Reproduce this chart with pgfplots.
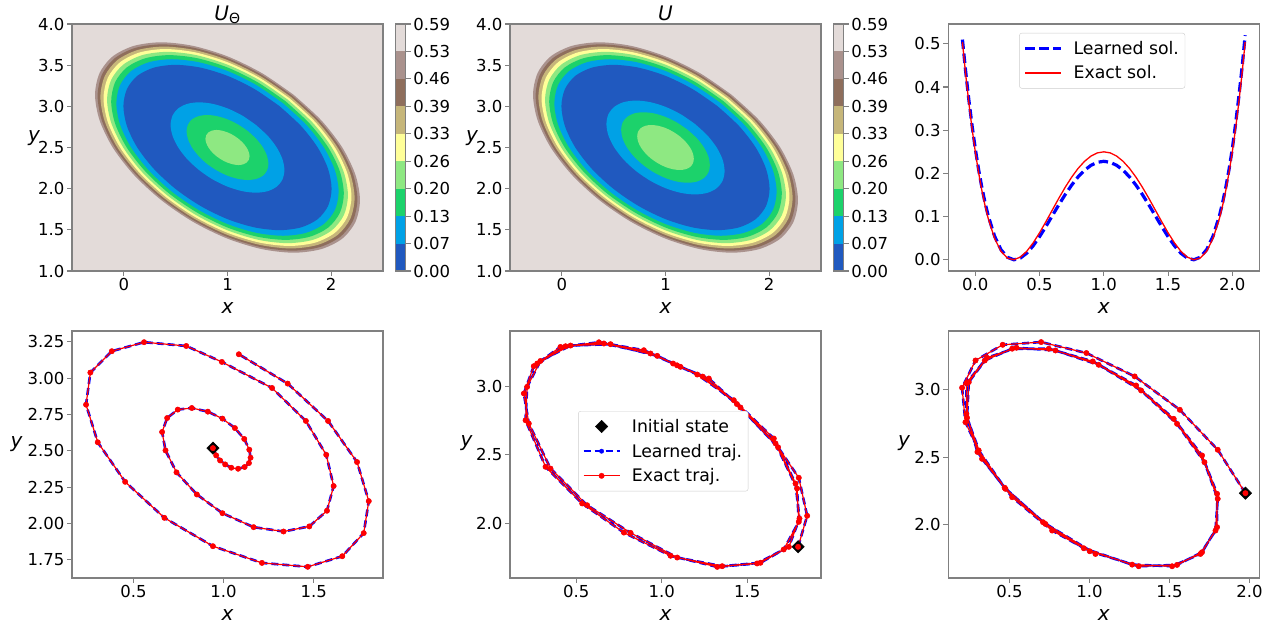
\documentclass[border=0pt]{standalone}
\usepackage{fontspec}
\setmainfont{DejaVu Sans}
\usepackage{pgfplots}
\usepackage{pgfplotstable}
\pgfplotsset{compat=1.18}

% terrain colours of the nine filled levels
\definecolor{c1}{HTML}{2059BF}
\definecolor{c2}{HTML}{00A1E6}
\definecolor{c3}{HTML}{1CD26B}
\definecolor{c4}{HTML}{8EE882}
\definecolor{c5}{HTML}{FFFF99}
\definecolor{c6}{HTML}{C6B67A}
\definecolor{c7}{HTML}{8E6E5C}
\definecolor{c8}{HTML}{AA928D}
\definecolor{c9}{HTML}{E3DBD9}

% contour lines of U (levels 8..1 outer ring, a..c inner); last row closes the loop
\pgfplotstableread{
x8 y8 x7 y7 x6 y6 x5 y5 x4 y4 x3 y3 x2 y2 x1 y1 xa ya xb yb xc yc
1.639 3.139 1.627 3.127 1.613 3.113 1.598 3.098 1.581 3.081 1.561 3.061 1.536 3.036 1.502 3.002 1.285 2.785 1.214 2.714 1.137 2.637
1.904 2.831 1.886 2.825 1.867 2.817 1.846 2.810 1.822 2.801 1.793 2.790 1.758 2.778 1.710 2.760 1.403 2.648 1.303 2.611 1.193 2.571
2.107 2.5 2.086 2.5 2.062 2.5 2.036 2.5 2.006 2.5 1.972 2.5 1.929 2.5 1.870 2.5 1.494 2.5 1.371 2.5 1.237 2.5
2.234 2.169 2.211 2.175 2.184 2.183 2.155 2.190 2.122 2.199 2.084 2.210 2.036 2.222 1.970 2.240 1.551 2.352 1.414 2.389 1.264 2.429
2.278 1.861 2.253 1.873 2.226 1.887 2.196 1.902 2.162 1.919 2.122 1.939 2.072 1.964 2.004 1.998 1.570 2.215 1.428 2.286 1.273 2.363
2.234 1.596 2.211 1.614 2.184 1.633 2.155 1.654 2.122 1.678 2.084 1.707 2.036 1.742 1.970 1.790 1.551 2.097 1.414 2.197 1.264 2.307
2.107 1.393 2.086 1.414 2.062 1.438 2.036 1.464 2.006 1.494 1.972 1.528 1.929 1.571 1.870 1.630 1.494 2.006 1.371 2.129 1.237 2.263
1.904 1.266 1.886 1.289 1.867 1.316 1.846 1.345 1.822 1.378 1.793 1.416 1.758 1.464 1.710 1.530 1.403 1.949 1.303 2.086 1.193 2.236
1.639 1.222 1.627 1.247 1.613 1.274 1.598 1.304 1.581 1.338 1.561 1.378 1.536 1.428 1.502 1.496 1.285 1.930 1.214 2.072 1.137 2.227
1.331 1.266 1.325 1.289 1.317 1.316 1.310 1.345 1.301 1.378 1.290 1.416 1.278 1.464 1.260 1.530 1.148 1.949 1.111 2.086 1.071 2.236
1 1.393 1 1.414 1 1.438 1 1.464 1 1.494 1 1.528 1 1.571 1 1.630 1 2.006 1 2.129 1 2.263
0.669 1.596 0.675 1.614 0.683 1.633 0.690 1.654 0.699 1.678 0.710 1.707 0.722 1.742 0.740 1.790 0.852 2.097 0.889 2.197 0.929 2.307
0.361 1.861 0.373 1.873 0.387 1.887 0.402 1.902 0.419 1.919 0.439 1.939 0.464 1.964 0.498 1.998 0.715 2.215 0.786 2.286 0.863 2.363
0.096 2.169 0.114 2.175 0.133 2.183 0.154 2.190 0.178 2.199 0.207 2.210 0.242 2.222 0.290 2.240 0.597 2.352 0.697 2.389 0.807 2.429
-0.107 2.5 -0.086 2.5 -0.062 2.5 -0.036 2.5 -0.006 2.5 0.028 2.5 0.071 2.5 0.130 2.5 0.506 2.5 0.629 2.5 0.763 2.5
-0.234 2.831 -0.211 2.825 -0.184 2.817 -0.155 2.810 -0.122 2.801 -0.084 2.790 -0.036 2.778 0.030 2.760 0.449 2.648 0.586 2.611 0.736 2.571
-0.278 3.139 -0.253 3.127 -0.226 3.113 -0.196 3.098 -0.162 3.081 -0.122 3.061 -0.072 3.036 -0.004 3.002 0.430 2.785 0.572 2.714 0.727 2.637
-0.234 3.404 -0.211 3.386 -0.184 3.367 -0.155 3.346 -0.122 3.322 -0.084 3.293 -0.036 3.258 0.030 3.210 0.449 2.903 0.586 2.803 0.736 2.693
-0.107 3.607 -0.086 3.586 -0.062 3.562 -0.036 3.536 -0.006 3.506 0.028 3.472 0.071 3.429 0.130 3.370 0.506 2.994 0.629 2.871 0.763 2.737
0.096 3.734 0.114 3.711 0.133 3.684 0.154 3.655 0.178 3.622 0.207 3.584 0.242 3.536 0.290 3.470 0.597 3.051 0.697 2.914 0.807 2.764
0.361 3.778 0.373 3.753 0.387 3.726 0.402 3.696 0.419 3.662 0.439 3.622 0.464 3.572 0.498 3.504 0.715 3.070 0.786 2.928 0.863 2.773
0.669 3.734 0.675 3.711 0.683 3.684 0.690 3.655 0.699 3.622 0.710 3.584 0.722 3.536 0.740 3.470 0.852 3.051 0.889 2.914 0.929 2.764
1 3.607 1 3.586 1 3.562 1 3.536 1 3.506 1 3.472 1 3.429 1 3.370 1 2.994 1 2.871 1 2.737
1.331 3.404 1.325 3.386 1.317 3.367 1.310 3.346 1.301 3.322 1.290 3.293 1.278 3.258 1.260 3.210 1.148 2.903 1.111 2.803 1.071 2.693
1.639 3.139 1.627 3.127 1.613 3.113 1.598 3.098 1.581 3.081 1.561 3.061 1.536 3.036 1.502 3.002 1.285 2.785 1.214 2.714 1.137 2.637
}\ctab

% inner contours of the learned U_Theta
\pgfplotstableread{
xa ya xb yb xc yc
1.274 2.774 1.198 2.698 1.106 2.606
1.388 2.642 1.279 2.602 1.150 2.555
1.475 2.5 1.342 2.5 1.184 2.5
1.530 2.358 1.381 2.398 1.205 2.445
1.549 2.226 1.395 2.302 1.213 2.394
1.530 2.112 1.381 2.221 1.205 2.350
1.475 2.025 1.342 2.158 1.184 2.316
1.388 1.970 1.279 2.119 1.150 2.295
1.274 1.951 1.198 2.105 1.106 2.287
1.142 1.970 1.102 2.119 1.055 2.295
1 2.025 1 2.158 1 2.316
0.858 2.112 0.898 2.221 0.945 2.350
0.726 2.226 0.802 2.302 0.894 2.394
0.612 2.358 0.721 2.398 0.850 2.445
0.525 2.5 0.658 2.5 0.816 2.5
0.470 2.642 0.619 2.602 0.795 2.555
0.451 2.774 0.605 2.698 0.787 2.606
0.470 2.888 0.619 2.779 0.795 2.650
0.525 2.975 0.658 2.842 0.816 2.684
0.612 3.030 0.721 2.881 0.850 2.705
0.726 3.049 0.802 2.895 0.894 2.713
0.858 3.030 0.898 2.881 0.945 2.705
1 2.975 1 2.842 1 2.684
1.142 2.888 1.102 2.779 1.055 2.650
1.274 2.774 1.198 2.698 1.106 2.606
}\ltab

% 1D slice: exact and learned
\pgfplotstableread{
x ex le
-0.100 0.5041 0.5099
-0.075 0.4298 0.4363
-0.050 0.3630 0.3699
-0.025 0.3032 0.3104
0.000 0.2500 0.2573
0.025 0.2031 0.2104
0.050 0.1620 0.1691
0.075 0.1265 0.1333
0.100 0.0961 0.1025
0.150 0.0495 0.0547
0.200 0.0196 0.0233
0.250 0.0039 0.0058
0.300 0.0001 0.0000
0.350 0.0060 0.0038
0.400 0.0196 0.0151
0.450 0.0390 0.0323
0.500 0.0625 0.0535
0.550 0.0885 0.0773
0.600 0.1156 0.1024
0.650 0.1425 0.1274
0.700 0.1681 0.1512
0.750 0.1914 0.1730
0.800 0.2116 0.1920
0.850 0.2280 0.2074
0.900 0.2401 0.2187
0.950 0.2475 0.2257
1.000 0.2500 0.2280
1.050 0.2475 0.2257
1.100 0.2401 0.2187
1.150 0.2280 0.2074
1.200 0.2116 0.1920
1.250 0.1914 0.1730
1.300 0.1681 0.1512
1.350 0.1425 0.1274
1.400 0.1156 0.1024
1.450 0.0885 0.0773
1.500 0.0625 0.0535
1.550 0.0390 0.0323
1.600 0.0196 0.0151
1.650 0.0060 0.0038
1.700 0.0001 0.0000
1.750 0.0039 0.0058
1.800 0.0196 0.0233
1.850 0.0495 0.0547
1.900 0.0961 0.1025
1.925 0.1265 0.1333
1.950 0.1620 0.1691
1.975 0.2031 0.2104
2.000 0.2500 0.2573
2.025 0.3032 0.3140
2.050 0.3630 0.3760
2.075 0.4298 0.4430
2.100 0.5041 0.5200
}\sol

\pgfplotstableread{
x y
0.941 2.519
0.959 2.469
0.981 2.434
1.009 2.407
1.043 2.384
1.081 2.377
1.117 2.389
1.141 2.416
1.150 2.453
1.143 2.508
1.115 2.582
1.063 2.657
0.994 2.722
0.913 2.770
0.824 2.795
0.746 2.784
0.687 2.726
0.659 2.630
0.678 2.503
0.739 2.352
0.852 2.200
0.994 2.071
1.167 1.975
1.333 1.945
1.476 1.980
1.574 2.088
1.611 2.258
1.570 2.473
1.457 2.706
1.269 2.933
0.991 3.112
0.793 3.222
0.559 3.248
0.380 3.186
0.261 3.039
0.237 2.818
0.302 2.559
0.454 2.287
0.672 2.039
0.941 1.844
1.213 1.729
1.467 1.702
1.659 1.775
1.778 1.934
1.806 2.154
1.741 2.423
1.580 2.706
1.356 2.963
1.085 3.165
}\trajA

\pgfplotstableread{
x y
1.798 1.830
1.851 2.056
1.802 2.333
1.681 2.555
1.461 2.845
1.276 3.056
1.110 3.141
0.974 3.221
0.701 3.306
0.467 3.296
0.291 3.184
0.213 2.995
0.204 2.752
0.321 2.413
0.535 2.146
0.779 1.934
1.052 1.765
1.325 1.684
1.558 1.709
1.744 1.830
1.806 2.036
1.783 2.291
1.656 2.619
1.422 2.898
1.208 3.085
1.067 3.165
0.935 3.238
0.662 3.311
0.438 3.291
0.252 3.146
0.194 2.947
0.223 2.728
0.350 2.400
0.564 2.133
0.818 1.932
1.091 1.752
1.354 1.689
1.578 1.714
1.714 1.811
1.802 2.012
1.792 2.255
1.666 2.583
1.440 2.870
1.240 3.070
1.090 3.152
0.896 3.262
0.633 3.320
0.408 3.286
0.272 3.165
}\trajB

\pgfplotstableread{
x y
1.975 2.235
1.802 2.556
1.565 2.852
1.283 3.099
0.981 3.272
0.698 3.353
0.458 3.333
0.288 3.217
0.204 3.015
0.225 2.760
0.308 2.551
0.475 2.267
0.725 2.007
0.965 1.827
1.267 1.706
1.517 1.694
1.694 1.785
1.788 1.958
1.802 2.193
1.719 2.464
1.548 2.748
1.323 2.995
1.058 3.185
0.788 3.291
0.544 3.311
0.360 3.237
0.246 3.057
0.235 2.793
0.329 2.489
0.517 2.205
0.767 1.958
1.002 1.805
1.308 1.694
1.548 1.704
1.704 1.798
1.798 1.983
1.798 2.230
1.704 2.514
1.527 2.785
1.292 3.032
1.021 3.210
0.746 3.304
0.517 3.304
0.346 3.217
0.231 3.049
0.231 2.822
0.300 2.540
0.470 2.275
0.710 2.020
1.038 1.785
}\trajC

\pgfplotsset{
  panel/.style={
    scale only axis, width=311pt, height=247pt, anchor=south west,
    axis line style={draw=black!50, line width=1.1pt},
    tick style={draw=black!50, line width=1.1pt},
    tick align=outside, major tick length=4.9pt,
    tick pos=left, scaled ticks=false,
    /pgf/number format/assume math mode=true,
    tick label style={font=\fontsize{16.5}{19}\selectfont, inner sep=2.5pt},
    every axis x label/.style={at={(axis description cs:0.5,-0.148)}, anchor=center,
      font=\fontsize{20}{24}\selectfont},
    xlabel={\textit{x}}, ylabel={\textit{y}},
    legend style={font=\fontsize{17.3}{20}\selectfont, draw=black!20,
      rounded corners=2.5pt, fill=white, cells={anchor=west},
      inner xsep=4pt, inner ysep=6pt, row sep=6pt,
      /tikz/every odd column/.append style={column sep=9pt}},
    legend image code/.code={\draw[mark repeat=2,mark phase=2,##1]
      plot coordinates {(0pt,0pt) (18pt,0pt) (36pt,0pt)};},
  },
  ylab/.style 2 args={every axis y label/.style={at={(axis description cs:#1,#2)},
    anchor=center, font=\fontsize{20}{24}\selectfont}},
  onedec/.style={/pgf/number format/.cd, fixed, fixed zerofill, precision=1},
  twodec/.style={/pgf/number format/.cd, fixed, fixed zerofill, precision=2},
  contourpanel/.style={
    panel, xmin=-0.5, xmax=2.5, ymin=1, ymax=4,
    xtick={0,1,2}, ytick={1,1.5,2,2.5,3,3.5,4},
    yticklabel style={onedec},
    axis on top, axis background/.style={fill=c9},
    ylab={-0.122}{0.536},
    every axis title shift=0pt,
    title style={at={(0.5,1)}, anchor=base, yshift=4pt, font=\fontsize{20}{24}\selectfont},
  },
  cbar/.style={
    scale only axis, width=10.4pt, height=247pt, anchor=south west,
    xmin=0, xmax=1, ymin=0, ymax=9, xtick=\empty,
    ytick={0,1,2,3,4,5,6,7,8,9},
    yticklabels={0.00,0.07,0.13,0.20,0.26,0.33,0.39,0.46,0.53,0.59},
    ytick pos=right, yticklabel pos=right,
    axis line style={draw=black!50, line width=1.1pt},
    tick style={draw=black!50, line width=1.1pt},
    tick align=outside, major tick length=4.9pt,
    tick label style={font=\fontsize{16.5}{19}\selectfont, inner sep=2.5pt},
    axis on top,
  },
  trajpanel/.style={
    panel, xtick={0.5,1,1.5}, xticklabel style={onedec}, yticklabel style={onedec},
  },
  ring/.style={smooth, draw=none, fill=#1},
  learned/.style={blue, line width=2.6pt, line join=round, dash pattern=on 7pt off 4pt,
    mark=*, mark size=2.2pt, mark options={solid, fill=blue, draw=blue, line width=0.4pt}},
  exact/.style={red, line width=1.2pt, line join=round,
    mark=*, mark size=2.7pt, mark options={solid, fill=red, draw=red, line width=0.4pt}},
  init/.style={only marks, mark=square*, mark size=4.4pt,
    mark options={rotate=45, fill=black, draw=black}},
}

\begin{document}
\begin{tikzpicture}[x=1pt,y=1pt]
\path[use as bounding box] (0,0) rectangle (1276,625);

% ---------- top left: learned potential
\begin{axis}[contourpanel, at={(72pt,354pt)}, title={\textit{U}\textsubscript{Θ}}]
  \addplot[ring=c8] table[x=x8,y=y8] {\ctab} -- cycle;
  \addplot[ring=c7] table[x=x7,y=y7] {\ctab} -- cycle;
  \addplot[ring=c6] table[x=x6,y=y6] {\ctab} -- cycle;
  \addplot[ring=c5] table[x=x5,y=y5] {\ctab} -- cycle;
  \addplot[ring=c4] table[x=x4,y=y4] {\ctab} -- cycle;
  \addplot[ring=c3] table[x=x3,y=y3] {\ctab} -- cycle;
  \addplot[ring=c2] table[x=x2,y=y2] {\ctab} -- cycle;
  \addplot[ring=c1] table[x=x1,y=y1] {\ctab} -- cycle;
  \addplot[ring=c2] table[x=xa,y=ya] {\ltab} -- cycle;
  \addplot[ring=c3] table[x=xb,y=yb] {\ltab} -- cycle;
  \addplot[ring=c4] table[x=xc,y=yc] {\ltab} -- cycle;
\end{axis}
\begin{axis}[cbar, at={(395.3pt,354pt)}]
  \addplot[fill=c1, draw=none] coordinates {(0,0) (1,0) (1,1) (0,1)} -- cycle;
  \addplot[fill=c2, draw=none] coordinates {(0,1) (1,1) (1,2) (0,2)} -- cycle;
  \addplot[fill=c3, draw=none] coordinates {(0,2) (1,2) (1,3) (0,3)} -- cycle;
  \addplot[fill=c4, draw=none] coordinates {(0,3) (1,3) (1,4) (0,4)} -- cycle;
  \addplot[fill=c5, draw=none] coordinates {(0,4) (1,4) (1,5) (0,5)} -- cycle;
  \addplot[fill=c6, draw=none] coordinates {(0,5) (1,5) (1,6) (0,6)} -- cycle;
  \addplot[fill=c7, draw=none] coordinates {(0,6) (1,6) (1,7) (0,7)} -- cycle;
  \addplot[fill=c8, draw=none] coordinates {(0,7) (1,7) (1,8) (0,8)} -- cycle;
  \addplot[fill=c9, draw=none] coordinates {(0,8) (1,8) (1,9) (0,9)} -- cycle;
\end{axis}

% ---------- top middle: exact potential
\begin{axis}[contourpanel, at={(510pt,354pt)}, title={\textit{U}}]
  \addplot[ring=c8] table[x=x8,y=y8] {\ctab} -- cycle;
  \addplot[ring=c7] table[x=x7,y=y7] {\ctab} -- cycle;
  \addplot[ring=c6] table[x=x6,y=y6] {\ctab} -- cycle;
  \addplot[ring=c5] table[x=x5,y=y5] {\ctab} -- cycle;
  \addplot[ring=c4] table[x=x4,y=y4] {\ctab} -- cycle;
  \addplot[ring=c3] table[x=x3,y=y3] {\ctab} -- cycle;
  \addplot[ring=c2] table[x=x2,y=y2] {\ctab} -- cycle;
  \addplot[ring=c1] table[x=x1,y=y1] {\ctab} -- cycle;
  \addplot[ring=c2] table[x=xa,y=ya] {\ctab} -- cycle;
  \addplot[ring=c3] table[x=xb,y=yb] {\ctab} -- cycle;
  \addplot[ring=c4] table[x=xc,y=yc] {\ctab} -- cycle;
\end{axis}
\begin{axis}[cbar, at={(833.3pt,354pt)}]
  \addplot[fill=c1, draw=none] coordinates {(0,0) (1,0) (1,1) (0,1)} -- cycle;
  \addplot[fill=c2, draw=none] coordinates {(0,1) (1,1) (1,2) (0,2)} -- cycle;
  \addplot[fill=c3, draw=none] coordinates {(0,2) (1,2) (1,3) (0,3)} -- cycle;
  \addplot[fill=c4, draw=none] coordinates {(0,3) (1,3) (1,4) (0,4)} -- cycle;
  \addplot[fill=c5, draw=none] coordinates {(0,4) (1,4) (1,5) (0,5)} -- cycle;
  \addplot[fill=c6, draw=none] coordinates {(0,5) (1,5) (1,6) (0,6)} -- cycle;
  \addplot[fill=c7, draw=none] coordinates {(0,6) (1,6) (1,7) (0,7)} -- cycle;
  \addplot[fill=c8, draw=none] coordinates {(0,7) (1,7) (1,8) (0,8)} -- cycle;
  \addplot[fill=c9, draw=none] coordinates {(0,8) (1,8) (1,9) (0,9)} -- cycle;
\end{axis}

% ---------- top right: 1D slice
\begin{axis}[panel, at={(948.3pt,354pt)},
    xmin=-0.21, xmax=2.21, ymin=-0.026, ymax=0.546,
    xtick={0,0.5,1,1.5,2}, ytick={0,0.1,0.2,0.3,0.4,0.5},
    xticklabel style={onedec}, yticklabel style={onedec},
    ylabel={},
    legend style={at={(axis description cs:0.228,0.964)}, anchor=north west}]
  \addplot[blue, line width=3.2pt, dash pattern=on 9.5pt off 4.5pt] table[x=x,y=le] {\sol};
  \addlegendentry{Learned sol.}
  \addplot[red, line width=1.3pt] table[x=x,y=ex] {\sol};
  \addlegendentry{Exact sol.}
\end{axis}

% ---------- bottom left
\begin{axis}[trajpanel, at={(72pt,47pt)},
    xmin=0.159, xmax=1.885, ymin=1.625, ymax=3.325,
    ytick={1.75,2,2.25,2.5,2.75,3,3.25}, yticklabel style={twodec},
    ylab={-0.178}{0.543}]
  \addplot[init] coordinates {(0.941,2.519)};
  \addplot[learned] table {\trajA};
  \addplot[exact] table {\trajA};
\end{axis}

% ---------- bottom middle
\begin{axis}[trajpanel, at={(510pt,47pt)},
    xmin=0.113, xmax=1.932, ymin=1.603, ymax=3.402,
    ytick={2,2.5,3},
    ylab={-0.139}{0.545},
    legend style={at={(axis description cs:0.219,0.676)}, anchor=north west}]
  \addplot[init] coordinates {(1.798,1.830)};
  \addlegendentry{Initial state}
  \addplot[learned] table {\trajB};
  \addlegendentry{Learned traj.}
  \addplot[exact] table {\trajB};
  \addlegendentry{Exact traj.}
\end{axis}

% ---------- bottom right
\begin{axis}[trajpanel, at={(948.3pt,47pt)},
    xmin=0.118, xmax=2.062, ymin=1.607, ymax=3.435,
    xtick={0.5,1,1.5,2}, ytick={2,2.5,3},
    ylab={-0.142}{0.545}]
  \addplot[init] coordinates {(1.975,2.235)};
  \addplot[learned] table {\trajC};
  \addplot[exact] table {\trajC};
\end{axis}
\end{tikzpicture}
\end{document}
